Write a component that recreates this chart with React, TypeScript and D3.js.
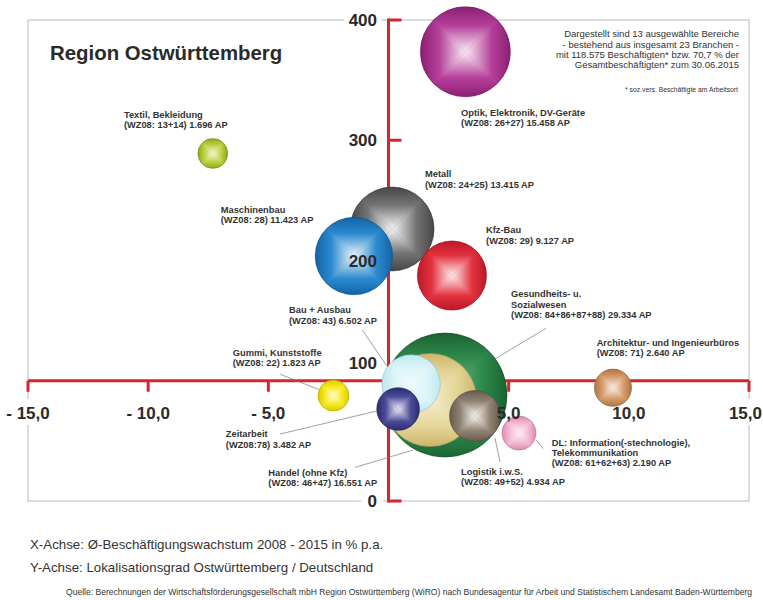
import React from "react";
import * as d3 from "d3";

// ---------- data ----------
const sectors = [
  "Gesundheits- u. Sozialwesen",
  "Handel (ohne Kfz)",
  "Optik, Elektronik, DV-Geräte",
  "Metall",
  "Maschinenbau",
  "Kfz-Bau",
  "Bau + Ausbau",
  "Logistik i.w.S.",
  "Zeitarbeit",
  "Architektur- und Ingenieurbüros",
  "DL: Information(-stechnologie), Telekommunikation",
  "Gummi, Kunststoffe",
  "Textil, Bekleidung",
];
const wzCodes = ["84+86+87+88", "46+47", "26+27", "24+25", "28", "29", "43", "49+52", "78", "71", "61+62+63", "22", "13+14"];
const employees = [29334, 16551, 15458, 13415, 11423, 9127, 6502, 4934, 3482, 2640, 2190, 1823, 1696];
const growthPct = [2.35, 1.73, 3.2, 0.15, -1.44, 2.64, 0.94, 3.6, 0.4, 9.34, 5.43, -2.29, -7.31];
const localisation = [88.1, 84.0, 373.6, 226.2, 203.7, 187.5, 97.3, 70.7, 76.5, 94.2, 56.5, 87.7, 289.0];

const labelLines = [
  ["Gesundheits- u.", "Sozialwesen", "(WZ08: 84+86+87+88) 29.334 AP"],
  ["Handel (ohne Kfz)", "(WZ08: 46+47) 16.551 AP"],
  ["Optik, Elektronik, DV-Geräte", "(WZ08: 26+27) 15.458 AP"],
  ["Metall", "(WZ08: 24+25) 13.415 AP"],
  ["Maschinenbau", "(WZ08: 28) 11.423 AP"],
  ["Kfz-Bau", "(WZ08: 29) 9.127 AP"],
  ["Bau + Ausbau", "(WZ08: 43) 6.502 AP"],
  ["Logistik i.w.S.", "(WZ08: 49+52) 4.934 AP"],
  ["Zeitarbeit", "(WZ08:78) 3.482 AP"],
  ["Architektur- und Ingenieurbüros", "(WZ08: 71) 2.640 AP"],
  ["DL: Information(-stechnologie),", "Telekommunikation", "(WZ08: 61+62+63) 2.190 AP"],
  ["Gummi, Kunststoffe", "(WZ08: 22) 1.823 AP"],
  ["Textil, Bekleidung", "(WZ08: 13+14) 1.696 AP"],
];

const xTicks = [-15, -10, -5, 0, 5, 10, 15];
const xTickLabels = ["- 15,0", "- 10,0", "- 5,0", "", "5,0", "10,0", "15,0"];
const yTicks = [0, 100, 200, 300, 400];
const yTickLabels = ["0", "100", "200", "300", "400"];

const infoLines = [
  "Dargestellt sind 13 ausgewählte Bereiche",
  "- bestehend aus insgesamt 23 Branchen -",
  "mit 118.575 Beschäftigten* bzw. 70,7 % der",
  "Gesamtbeschäftigten* zum 30.06.2015",
];
const footnote = "* soz.vers. Beschäftigte am Arbeitsort";
const title = "Region Ostwürttemberg";
const xAxisNote = "X-Achse: Ø-Beschäftigungswachstum 2008 - 2015 in % p.a.";
const yAxisNote = "Y-Achse: Lokalisationsgrad Ostwürttemberg / Deutschland";
const source =
  "Quelle: Berechnungen der Wirtschaftsförderungsgesellschaft mbH Region Ostwürttemberg (WiRO) nach Bundesagentur für Arbeit und Statistischem Landesamt Baden-Württemberg";

// ---------- layout / style (not data) ----------
const W = 763;
const H = 600;
const FONT = "'Liberation Sans', Arial, Helvetica, sans-serif";
const RED = "#d5262c";
const FRAME = "#b8b8b8";
const TXT = "#333333";

const bubbleColors = [
  { base: "#2f8c4d", dark: "#1a6432", light: "#7fbf93" },
  { base: "#e4d597", dark: "#ccb66c", light: "#f4eed0" },
  { base: "#b5409a", dark: "#8c1f72", light: "#faeef7" },
  { base: "#737373", dark: "#474747", light: "#f5f5f5" },
  { base: "#2b8bd0", dark: "#1463a6", light: "#eef6fc" },
  { base: "#e3323f", dark: "#bd1727", light: "#fdeef0" },
  { base: "#d9f4f8", dark: "#bfe7ef", light: "#f2fcfd" },
  { base: "#908373", dark: "#675b4f", light: "#f6f3f0" },
  { base: "#4b4b97", dark: "#2c2c72", light: "#eeeef8" },
  { base: "#d59c6b", dark: "#b27342", light: "#fbf1e8" },
  { base: "#f3b8d2", dark: "#df8bb1", light: "#fdf2f7" },
  { base: "#f6e81e", dark: "#dccb00", light: "#fffbe0" },
  { base: "#bbd03c", dark: "#90a61c", light: "#f4f8dc" },
];

// label anchors in data units (x %, y index)
const labelAnchorX = [5.1, -5.0, 3.02, 1.52, -6.98, 4.06, -4.14, 3.02, -6.77, 8.66, 6.79, -6.48, -11.01];
const labelAnchorY = [169.4, 21.0, 320.4, 269.2, 239.8, 222.6, 156.1, 21.6, 53.0, 129.1, 46.0, 120.6, 318.5];
// leader lines in data units [x1, y1, x2, y2]
const leaders: (number[] | null)[] = [
  [6.55, 143.6, 4.43, 118.1],
  [-1.39, 28.0, 1.03, 42.4],
  null,
  null,
  null,
  null,
  [-1.09, 142.2, -0.07, 112.3],
  [4.64, 32.4, 4.43, 52.4],
  [-4.51, 55.7, -0.49, 74.8],
  null,
  [6.44, 43.6, 6.14, 50.7],
  [-4.51, 105.4, -2.92, 92.9],
  null,
];

const x = d3.scaleLinear().domain([-15, 15]).range([28, 749]);
const y = d3.scaleLinear().domain([0, 400]).range([501, 20]);
const r = d3.scaleSqrt().domain([0, d3.max(employees) as number]).range([0, 62]);

function Bubble({ i }: { i: number }) {
  const cx = x(growthPct[i]);
  const cy = y(localisation[i]);
  const rr = r(employees[i]);
  const c = bubbleColors[i];
  const stops = (
    <>
      <stop offset="0" stopColor={c.dark} />
      <stop offset="0.42" stopColor={c.base} />
      <stop offset="1" stopColor={c.light} />
    </>
  );
  const outline = (d3.color(c.dark) as d3.RGBColor).darker(0.6).formatHex();
  return (
    <g>
      <defs>
        <clipPath id={`clip${i}`}>
          <circle cx={cx} cy={cy} r={rr} />
        </clipPath>
        <linearGradient id={`gt${i}`} x1="0" y1="0" x2="0" y2="1">{stops}</linearGradient>
        <linearGradient id={`gb${i}`} x1="0" y1="1" x2="0" y2="0">{stops}</linearGradient>
        <linearGradient id={`gl${i}`} x1="0" y1="0" x2="1" y2="0">{stops}</linearGradient>
        <linearGradient id={`gr${i}`} x1="1" y1="0" x2="0" y2="0">{stops}</linearGradient>
      </defs>
      <g clipPath={`url(#clip${i})`}>
        <circle cx={cx} cy={cy} r={rr} fill={c.base} />
        <polygon points={`${cx - rr},${cy - rr} ${cx + rr},${cy - rr} ${cx},${cy}`} fill={`url(#gt${i})`} />
        <polygon points={`${cx - rr},${cy + rr} ${cx + rr},${cy + rr} ${cx},${cy}`} fill={`url(#gb${i})`} />
        <polygon points={`${cx - rr},${cy - rr} ${cx - rr},${cy + rr} ${cx},${cy}`} fill={`url(#gl${i})`} />
        <polygon points={`${cx + rr},${cy - rr} ${cx + rr},${cy + rr} ${cx},${cy}`} fill={`url(#gr${i})`} />
      </g>
      <circle cx={cx} cy={cy} r={rr} fill="none" stroke={outline} strokeWidth={0.8} strokeOpacity={0.8} />
    </g>
  );
}

export default function App() {
  const order = d3.range(employees.length).sort((a, b) => employees[b] - employees[a]);
  const x0 = x(0);
  const yBase = y(100);
  const labelFs = 9.3;
  const lineH = 10.3;

  return (
    <svg
      width={W}
      height={H}
      viewBox={`0 0 ${W} ${H}`}
      style={{ position: "absolute", left: 0, top: 0, display: "block", background: "#fff" }}
      fontFamily={FONT}
    >
      <rect x={0} y={0} width={W} height={H} fill="#fff" />
      {/* frame */}
      <rect x={x(-15)} y={y(400)} width={x(15) - x(-15)} height={y(0) - y(400)} fill="none" stroke={FRAME} strokeWidth={1} />
      {/* white boxes behind labels that sit on the frame */}
      <rect x={0} y={399} width={52} height={26} fill="#fff" />
      <rect x={726} y={399} width={37} height={26} fill="#fff" />
      <rect x={344} y={10} width={38} height={20} fill="#fff" />
      <rect x={361} y={491} width={22} height={20} fill="#fff" />

      {/* title */}
      <text x={50} y={60} fontSize={20.4} fontWeight="bold" fill="#2a2a2a">{title}</text>

      {/* info text */}
      {infoLines.map((t, i) => (
        <text key={i} x={739} y={37.3 + i * 10.2} fontSize={9.5} textAnchor="end" fill={TXT}>{t}</text>
      ))}
      <text x={738} y={91.5} fontSize={6.8} textAnchor="end" fill={TXT}>{footnote}</text>

      {/* axes */}
      <line x1={x(-15)} x2={x(15)} y1={yBase} y2={yBase} stroke={RED} strokeWidth={3} />
      {xTicks.filter((t) => t !== 0).map((t) => (
        <line key={t} x1={x(t)} x2={x(t)} y1={yBase} y2={yBase + 11} stroke={RED} strokeWidth={3} />
      ))}
      <line x1={x0} x2={x0} y1={y(400) - 1.5} y2={y(0) + 1.5} stroke={RED} strokeWidth={3} />
      {yTicks.map((t) => (
        <line key={t} x1={x0} x2={x0 + 13} y1={y(t)} y2={y(t)} stroke={RED} strokeWidth={3} />
      ))}

      {/* leader lines */}
      {leaders.map((l, i) =>
        l ? (
          <line key={i} x1={x(l[0])} y1={y(l[1])} x2={x(l[2])} y2={y(l[3])} stroke="#777" strokeWidth={0.7} />
        ) : null
      )}

      {/* bubbles */}
      {order.map((i) => (
        <Bubble key={i} i={i} />
      ))}

      {/* tick labels */}
      {xTicks.map((t, i) =>
        xTickLabels[i] ? (
          <text
            key={t}
            x={t === 15 ? W - 1 : x(t)}
            y={418.5}
            fontSize={17}
            fontWeight="bold"
            textAnchor={t === 15 ? "end" : "middle"}
            fill="#2a2a2a"
          >
            {xTickLabels[i]}
          </text>
        ) : null
      )}
      {yTicks.map((t, i) => (
        <text key={t} x={377} y={y(t) + (t === 100 ? -11.5 : 6.2)} fontSize={17} fontWeight="bold" textAnchor="end" fill="#2a2a2a">
          {yTickLabels[i]}
        </text>
      ))}

      {/* bubble labels */}
      {labelLines.map((lines, i) => (
        <text key={i} x={x(labelAnchorX[i])} y={y(labelAnchorY[i])} fontSize={labelFs} fontWeight="bold" fill={TXT}>
          {lines.map((ln, j) => (
            <tspan key={j} x={x(labelAnchorX[i])} dy={j === 0 ? 0 : lineH}>
              {ln}
            </tspan>
          ))}
        </text>
      ))}

      {/* bottom notes */}
      <text x={30} y={549} fontSize={13.3} fill={TXT}>{xAxisNote}</text>
      <text x={30} y={571.5} fontSize={13.3} fill={TXT}>{yAxisNote}</text>
      <text x={66} y={595} fontSize={8.4} fill={TXT} textLength={686} lengthAdjust="spacingAndGlyphs">{source}</text>
    </svg>
  );
}
